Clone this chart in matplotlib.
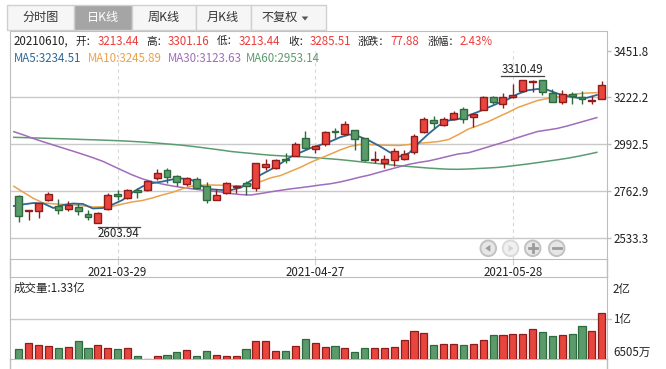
import matplotlib
matplotlib.use('Agg')
import matplotlib.pyplot as plt
from matplotlib.patches import Rectangle, Circle, Polygon
from matplotlib.lines import Line2D
from matplotlib.transforms import offset_copy
import numpy as np

plt.rcParams['font.family'] = ['Noto Sans CJK SC', 'DejaVu Sans']

# ---------------- data ----------------
day = '20210610'
opens = [2738.8, 2662.8, 2664.2, 2716.8, 2689.8, 2677.5, 2684.8, 2649.5, 2608.8, 2673.5,
         2747.7, 2727.5, 2768.3, 2766.8, 2829.6, 2865.4, 2839.4, 2796.2, 2820.8, 2786.4,
         2721.2, 2752.1, 2783.0, 2801.2, 2776.6, 2878.7, 2874.7, 2921.8, 2936.6, 3022.0,
         2968.0, 2994.0, 3057.8, 3042.1, 3061.2, 3021.0, 2915.5, 2899.3, 2915.5, 2922.8,
         2953.7, 3051.4, 3111.8, 3085.8, 3115.2, 3164.3, 3127.9, 3160.8, 3226.1, 3190.3,
         3226.1, 3254.1, 3299.7, 3307.5, 3242.8, 3198.6, 3237.9, 3226.1, 3205.2, 3213.44]
highs = [2743.7, 2670.1, 2706.0, 2757.0, 2722.6, 2714.3, 2706.0, 2670.1, 2660.3, 2755.0,
         2768.3, 2774.6, 2780.5, 2817.3, 2870.3, 2874.7, 2844.3, 2833.5, 2832.0, 2806.6,
         2773.2, 2807.5, 2792.8, 2812.4, 2900.8, 2918.9, 2918.9, 2947.4, 3005.3, 3056.3,
         2989.1, 3059.3, 3072.5, 3109.3, 3062.7, 3025.9, 2959.7, 2937.6, 2974.4, 2967.0,
         3042.1, 3127.9, 3131.4, 3127.9, 3157.4, 3174.1, 3141.2, 3231.0, 3231.0, 3242.8,
         3286.9, 3310.49, 3308.0, 3308.0, 3262.4, 3259.0, 3250.6, 3254.1, 3231.0, 3301.16]
lows = [2609.8, 2623.5, 2629.4, 2715.8, 2649.0, 2662.8, 2648.0, 2621.1, 2603.94, 2668.7,
        2720.2, 2722.6, 2727.5, 2763.4, 2817.3, 2802.6, 2785.5, 2787.9, 2774.2, 2706.0,
        2719.2, 2748.7, 2755.0, 2743.7, 2764.8, 2866.4, 2869.9, 2903.2, 2935.1, 2968.0,
        2948.4, 2984.2, 3022.0, 3039.6, 2964.6, 2910.6, 2900.8, 2876.2, 2884.6, 2917.9,
        2945.9, 3050.4, 3071.0, 3082.3, 3114.2, 3098.5, 3077.4, 3159.4, 3188.8, 3172.1,
        3218.2, 3250.6, 3250.6, 3234.4, 3200.6, 3188.8, 3188.8, 3190.3, 3190.3, 3213.44]
closes = [2643.1, 2668.7, 2703.0, 2747.7, 2667.7, 2694.7, 2665.2, 2634.8, 2653.9, 2743.7,
          2736.4, 2768.3, 2757.0, 2813.9, 2850.2, 2833.5, 2805.1, 2825.7, 2779.5, 2717.7,
          2743.7, 2801.2, 2787.9, 2788.9, 2899.3, 2894.4, 2914.0, 2916.9, 2992.5, 2972.9,
          2985.7, 3051.4, 3052.9, 3090.7, 3016.1, 2914.0, 2921.4, 2918.9, 2959.7, 2943.4,
          3031.8, 3115.2, 3095.6, 3115.2, 3144.6, 3115.2, 3139.7, 3226.1, 3198.6, 3226.1,
          3234.5, 3306.0, 3304.6, 3250.6, 3201.6, 3237.9, 3231.0, 3213.4, 3207.63, 3285.51]
ma5 = [2689.8, 2698.1, 2704.5, 2702.0, 2679.9, 2694.7, 2702.0, 2699.6, 2677.5, 2679.9,
       2697.1, 2719.2, 2756.0, 2785.4, 2801.7, 2809.5, 2819.8, 2824.7, 2817.3, 2787.9,
       2771.7, 2768.3, 2768.3, 2780.5, 2814.9, 2843.3, 2868.9, 2898.3, 2930.2, 2952.3,
       2973.4, 2989.1, 3005.3, 3026.9, 3040.6, 3029.8, 3009.7, 2984.2, 2954.7, 2931.7,
       2949.8, 3000.4, 3045.5, 3084.8, 3109.3, 3116.7, 3133.8, 3152.0, 3173.1, 3193.7,
       3213.3, 3239.3, 3257.5, 3263.9, 3259.9, 3241.8, 3228.5, 3220.7, 3220.7, 3234.51]
ma10 = [2786.4, 2756.0, 2726.6, 2704.5, 2700.5, 2697.6, 2695.6, 2690.7, 2684.9, 2685.8,
        2688.3, 2699.6, 2709.9, 2716.7, 2729.0, 2743.7, 2756.0, 2773.2, 2787.4, 2791.8,
        2792.8, 2791.8, 2789.4, 2788.9, 2794.3, 2810.0, 2828.1, 2839.4, 2859.5, 2879.7,
        2903.2, 2923.8, 2943.4, 2964.5, 2981.7, 2991.5, 2991.5, 2989.1, 2987.6, 2986.6,
        2991.5, 2997.9, 3001.3, 3006.3, 3016.1, 3040.6, 3067.6, 3084.8, 3103.4, 3126.5,
        3148.6, 3173.1, 3190.3, 3207.4, 3217.3, 3224.6, 3233.0, 3240.3, 3244.2, 3245.89]
ma30 = [3054.3, 3038.2, 3020.5, 3004.3, 2989.1, 2973.9, 2958.7, 2943.0, 2926.8, 2909.1,
        2886.5, 2864.0, 2841.9, 2823.2, 2809.0, 2797.7, 2788.4, 2781.0, 2774.2, 2768.3,
        2763.4, 2758.5, 2750.6, 2745.7, 2743.7, 2751.1, 2759.4, 2766.8, 2773.7, 2779.6,
        2785.9, 2792.8, 2798.7, 2807.5, 2818.8, 2831.1, 2841.9, 2855.6, 2868.9, 2882.1,
        2894.4, 2903.7, 2911.1, 2922.3, 2934.1, 2945.4, 2950.8, 2965.0, 2979.8, 2994.5,
        3009.2, 3025.4, 3040.6, 3055.3, 3062.7, 3070.5, 3082.3, 3096.1, 3109.8, 3123.63]
ma60 = [3026.9, 3025.4, 3023.9, 3022.5, 3021.0, 3019.5, 3018.0, 3016.1, 3014.6, 3013.1,
        3011.2, 3009.2, 3006.7, 3003.8, 3000.4, 2996.4, 2992.5, 2988.1, 2982.7, 2976.8,
        2970.4, 2964.1, 2957.2, 2952.3, 2947.9, 2943.0, 2939.0, 2936.1, 2933.6, 2931.7,
        2928.2, 2924.8, 2921.4, 2917.4, 2912.5, 2907.1, 2902.2, 2897.3, 2892.4, 2887.5,
        2883.6, 2879.7, 2875.7, 2872.8, 2870.3, 2869.8, 2871.3, 2873.8, 2876.2, 2879.2,
        2884.1, 2890.0, 2895.9, 2902.7, 2909.6, 2916.5, 2923.8, 2932.7, 2942.5, 2953.14]
# volume in 万
volume = [7947, 8840, 8542, 8393, 8096, 8245, 9137, 8096, 8542, 8096,
          7947, 8096, 6906, 6505, 6906, 7055, 7501, 7799, 6906, 7650,
          7055, 6906, 6906, 7947, 9137, 9137, 7650, 7650, 8393, 9434,
          8840, 8245, 8393, 8096, 7501, 8096, 8096, 8096, 8245, 9330,
          10624, 10327, 8542, 8691, 8691, 8542, 8691, 9330, 10029, 10029,
          10178, 10178, 10921, 10475, 9881, 10029, 10178, 11367, 10624, 13300]
date_ticks = [10, 30, 50]
date_labels = ['2021-03-29', '2021-04-27', '2021-05-28']
price_ticks = [3451.8, 3222.2, 2992.5, 2762.9, 2533.3]
vol_labels = ['2亿', '1亿', '6505万']
tabs = ['分时图', '日K线', '周K线', '月K线', '不复权']

# ---------------- colours ----------------
RED, DRED = '#e8453c', '#8f1c1c'
GRN, DGRN = '#5b9a6b', '#2d6a3d'
C_MA5, C_MA10, C_MA30, C_MA60 = '#2f6896', '#eaa24c', '#a06cbc', '#5a9c70'
VAL = '#ee3b3b'
LINE = '#bdbdbd'
TXT = '#222222'
FS = 8.3

W, H = 666, 369
fig = plt.figure(figsize=(W / 100, H / 100), dpi=100)


def fx(x):
    return x / W


def fy(y):
    return 1 - y / H


def P(x, y):
    return (x / 100, (H - y) / 100)


ax = fig.add_axes([fx(10), fy(259), 597 / W, 228 / H])
axv = fig.add_axes([fx(10), fy(359), 597 / W, 82 / H])

o = np.array(opens); c = np.array(closes)
hi = np.array(highs); lo = np.array(lows)
vol = np.array(volume)
idx = np.arange(len(c))
up = c >= o
face = np.where(up, RED, GRN)
edge = np.where(up, DRED, DGRN)

# ---------------- price panel ----------------
ax.set_xlim(-0.89, 59.53)
ax.set_ylim(2429.7, 3548.5)
for p in price_ticks[1:]:
    ax.axhline(p, color='#c9c9c9', lw=1, zorder=1)
ax.vlines(date_ticks, 2429.7, price_ticks[0], colors='#d6d6d6', lw=0.8,
          linestyles=(0, (3, 3)), zorder=1)

ax.plot(idx - 0.5, ma60, color=C_MA60, lw=1.1, zorder=2)
ax.plot(idx - 0.5, ma30, color=C_MA30, lw=1.1, zorder=2)
ax.plot(idx - 0.5, ma10, color=C_MA10, lw=1.1, zorder=2)
ax.plot(idx - 0.5, ma5, color=C_MA5, lw=1.3, zorder=2)

ax.vlines(idx, lo, hi, colors=edge, lw=1, zorder=3)
ax.bar(idx, np.maximum(np.abs(c - o), 0.5), bottom=np.minimum(o, c), width=0.7,
       color=face, edgecolor=edge, lw=1, zorder=4)

# max / min labels
imax = int(np.argmax(hi)); imin = int(np.argmin(lo))
t_hi = offset_copy(ax.transData, fig=fig, x=0, y=2.5, units='points')
ax.text(imax, hi[imax], f'{hi[imax]:.2f}', transform=t_hi, ha='center', va='bottom',
        fontsize=FS, color=TXT, zorder=6)
ax.plot([imax - 2.15, imax + 2.15], [hi[imax]] * 2, transform=t_hi, color='#444444', lw=0.9)
t_lo = offset_copy(ax.transData, fig=fig, x=0, y=-2.4, units='points')
ax.text(imin, lo[imin], f'{lo[imin]:.2f}', transform=t_lo, ha='left', va='top',
        fontsize=FS, color=TXT, zorder=6)
ax.plot([imin, imin + 4.3], [lo[imin]] * 2, transform=t_lo, color='#444444', lw=0.9)

ax.yaxis.tick_right()
ax.set_yticks(price_ticks, [f'{p:.1f}' for p in price_ticks])
ax.tick_params(axis='y', length=3, width=1, color=LINE, labelsize=FS, labelcolor=TXT, pad=1.5)
ax.set_xticks(date_ticks, date_labels)
ax.tick_params(axis='x', length=4, width=0.8, color='#d0d0d0', labelsize=FS,
               labelcolor=TXT, pad=1)
for s in ax.spines.values():
    s.set_color(LINE)

# ---------------- volume panel ----------------
vbase = vol.min()
axv.set_xlim(-0.89, 59.53)
axv.set_ylim(vbase, vbase + 82 * 148.7)
axv.bar(idx, vol - vbase, bottom=vbase, width=0.72, color=face, edgecolor=edge, lw=0.9, zorder=3)
axv.plot([0, 1.007], [40 / 82] * 2, transform=axv.transAxes, color='#c9c9c9', lw=1,
         clip_on=False, zorder=1)
axv.set_xticks([]); axv.set_yticks([])
for s in axv.spines.values():
    s.set_color(LINE)
for lab, y in zip(vol_labels, [289, 319, 352]):
    fig.text(fx(613), fy(y), lab, fontsize=FS, color=TXT, va='center', ha='left')
fig.text(fx(14), fy(288), f'成交量:{vol[-1] / 10000:.2f}亿', fontsize=FS, color=TXT,
         va='center', ha='left')

# outer frame pieces between panels
for x in (10, 607):
    fig.add_artist(Line2D([fx(x)] * 2, [fy(259), fy(277)], color=LINE, lw=1))
    fig.add_artist(Line2D([fx(x)] * 2, [fy(359), fy(369)], color=LINE, lw=1))

# ---------------- info lines ----------------
chg = c[-1] - c[-2]
fig.text(fx(14), fy(41.5), f'{day},', fontsize=FS, color=TXT, va='center', ha='left')
info = [('开：', f'{o[-1]:.2f}', 97.7), ('高：', f'{hi[-1]:.2f}', 168),
        ('低：', f'{lo[-1]:.2f}', 239), ('收：', f'{c[-1]:.2f}', 310),
        ('涨跌：', f'{chg:.2f}', 390), ('涨幅：', f'{chg / c[-2] * 100:.2f}%', 460)]
for lab, val, x in info:
    fig.text(fx(x - 0.5), fy(41.5), lab, fontsize=FS - 0.6, color=TXT, va='center', ha='right')
    fig.text(fx(x), fy(41.5), val, fontsize=FS, color=VAL, va='center', ha='left')
mas = [('MA5', ma5, C_MA5, 14), ('MA10', ma10, C_MA10, 88),
       ('MA30', ma30, C_MA30, 168), ('MA60', ma60, C_MA60, 246)]
for name, ser, col, x in mas:
    fig.text(fx(x), fy(59), f'{name}:{ser[-1]:.2f}', fontsize=FS, color=col,
             va='center', ha='left')

# ---------------- tabs ----------------
edges_x = [7.3, 74, 132.3, 195.7, 250.7, 326]
for i, lab in enumerate(tabs):
    x0, x1 = edges_x[i], edges_x[i + 1]
    sel = lab == '日K线'
    fig.add_artist(Rectangle(P(x0, 30), (x1 - x0) / 100, 25 / 100,
                             transform=fig.dpi_scale_trans,
                             facecolor='#a5a5a5' if sel else '#f6f6f6',
                             edgecolor='#d0d0d0', lw=1))
    cx = (x0 + x1) / 2 if i < 4 else 280
    fig.text(fx(cx), fy(17.8), lab, fontsize=FS + 0.4, ha='center', va='center',
             color='white' if sel else '#333333')
tri = [P(301.7, 16.5), P(308.3, 16.5), P(305, 20.5)]
fig.add_artist(Polygon(tri, closed=True, transform=fig.dpi_scale_trans,
                       facecolor='#555555', edgecolor='none'))

# ---------------- navigation buttons ----------------
for k, cx in enumerate([488.3, 510.5, 532.7, 556.7]):
    faded = k == 1
    fig.add_artist(Circle(P(cx, 248.3), 7.8 / 100, transform=fig.dpi_scale_trans,
                          facecolor='#f0f0f0' if faded else '#e6e6e6',
                          edgecolor='#dadada' if faded else '#c2c2c2', lw=1.4))
    sc = '#d4d4d4' if faded else '#9c9c9c'
    if k == 0:
        pts = [P(cx - 3, 248.3), P(cx + 2, 244.8), P(cx + 2, 251.8)]
        fig.add_artist(Polygon(pts, transform=fig.dpi_scale_trans, facecolor=sc, edgecolor='none'))
    elif k == 1:
        pts = [P(cx + 3, 248.3), P(cx - 2, 244.8), P(cx - 2, 251.8)]
        fig.add_artist(Polygon(pts, transform=fig.dpi_scale_trans, facecolor=sc, edgecolor='none'))
    else:
        a, b = P(cx - 4, 248.3), P(cx + 4, 248.3)
        fig.add_artist(Line2D([a[0], b[0]], [a[1], b[1]], transform=fig.dpi_scale_trans,
                              color=sc, lw=2))
        if k == 2:
            a, b = P(cx, 244.3), P(cx, 252.3)
            fig.add_artist(Line2D([a[0], b[0]], [a[1], b[1]], transform=fig.dpi_scale_trans,
                                  color=sc, lw=2))

fig.savefig('out.png', dpi=100)
